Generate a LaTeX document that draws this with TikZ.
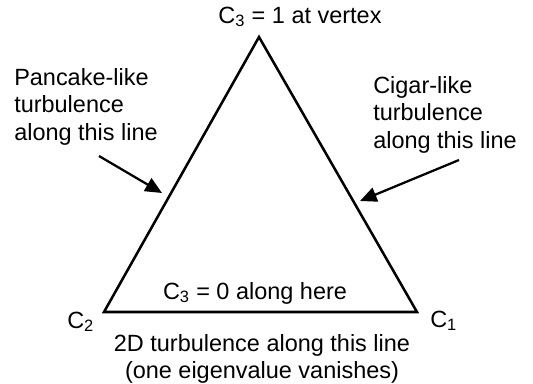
\documentclass[tikz,border=0pt]{standalone}
\usepackage{fontspec}
\setmainfont{Liberation Sans}
\usetikzlibrary{calc, arrows.meta}
\tikzstyle{txt} = [
inner sep=0pt,
font=\fontsize{17.6}{20.6}\selectfont
]
\tikzstyle{edge} = [
line width=1.9pt,
line join=miter
]
\tikzstyle{arrow}=[line width=1.7pt,-{Triangle[length=12.5pt,width=11pt]}]

\begin{document}
\begin{tikzpicture}[x=0.75pt,y=-0.75pt]
        \useasboundingbox (0,0) rectangle (533,383);

        % vertices of the triangle
        \coordinate (c3) at (259,37);
        \coordinate (c2) at (104,312);
        \coordinate (c1) at (417,312);

        \draw[edge] (c2) -- (c3) -- (c1) -- cycle;

        \node(vertex)[txt, anchor=base] at (300,23)
        {C\textsubscript{3} = 1 at vertex};

        \node(pancake)[txt, anchor=north west, align=left] at (14,68)
        {Pancake-like\\turbulence\\along this line};

        \node(cigar)[txt, anchor=north west, align=left] at (373,76)
        {Cigar-like\\turbulence\\along this line};

        \node(bottom)[txt, anchor=base] at (255,299)
        {C\textsubscript{3} = 0 along here};

        \node(lc2)[txt, anchor=base west] at (67,328)
        {C\textsubscript{2}};

        \node(lc1)[txt, anchor=base west] at (430,327)
        {C\textsubscript{1}};

        \node(twod)[txt, anchor=north, align=center] at (262,334)
        {2D turbulence along this line\\(one eigenvalue vanishes)};

        % arrows onto the two sides
        \coordinate (ps) at (99,156);
        \coordinate (pe) at (162,193);
        \coordinate (cs) at (459,160);
        \coordinate (ce) at (360,201);

        \draw[arrow] (ps) -- (pe);
        \draw[arrow] (cs) -- (ce);

\end{tikzpicture}
\end{document}
